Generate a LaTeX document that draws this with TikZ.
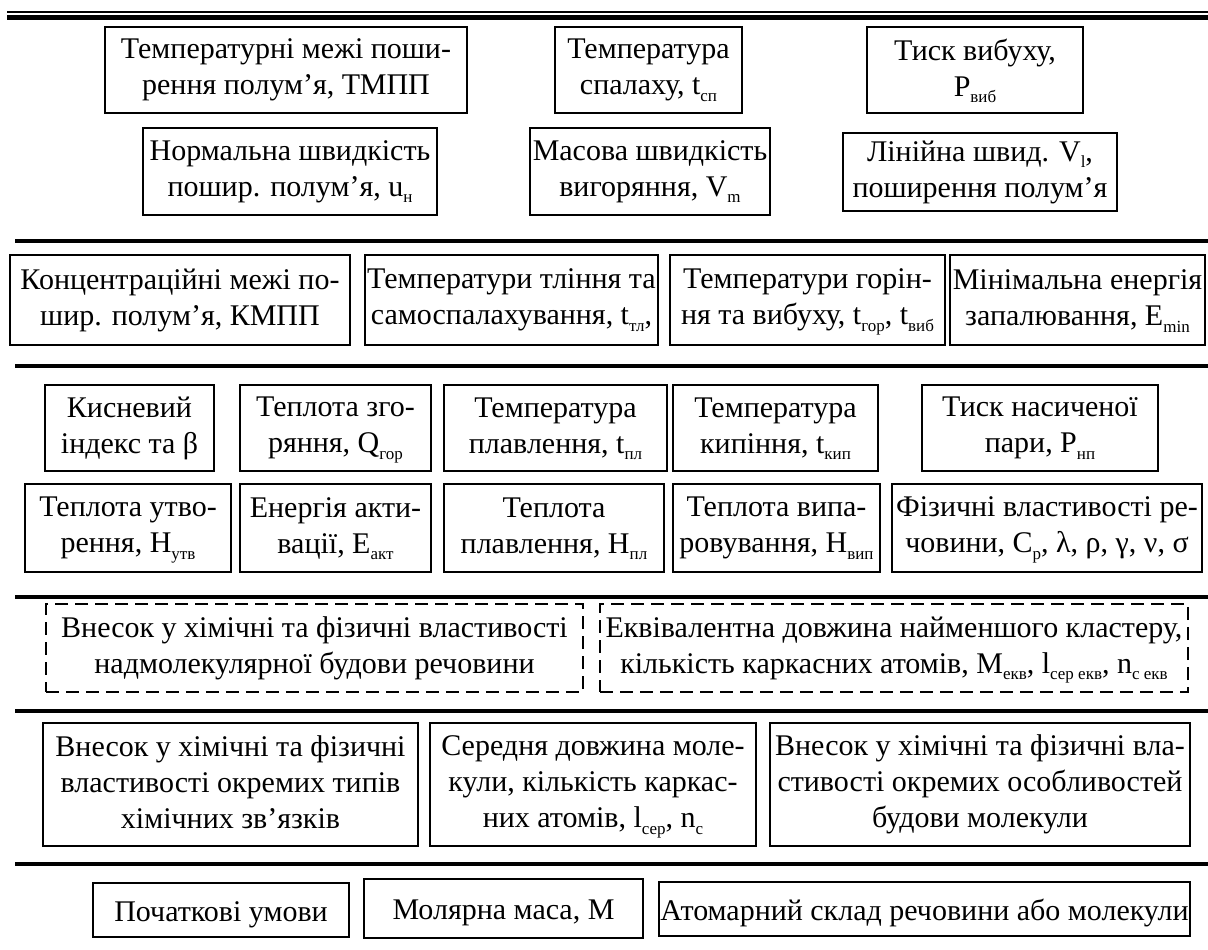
\documentclass[tikz,border=0pt]{standalone}
\usepackage{fontspec}
\setmainfont{Liberation Serif}
\newcommand\subx[1]{\raisebox{-0.22em}[0pt][0pt]{\fontsize{17}{17}\selectfont #1}}
\newcommand\stt{\rule[-5pt]{0pt}{34pt}}
\tikzset{
  boxst/.style={draw, line width=1.5pt, align=center, inner sep=0pt,
    font=\fontsize{30}{36}\selectfont,
    execute at begin node=\stt, execute at end node=\stt},
  dbox/.style={boxst, dash pattern=on 13pt off 7pt},
  sepline/.style={line width=3.2pt},
}
\begin{document}
\begin{tikzpicture}[x=1pt,y=-1pt]
\useasboundingbox (0,0) rectangle (1208,950);
% top double rule
\draw[line width=1.5pt] (7,12) -- (1208,12);
\draw[line width=4.5pt] (7,17.5) -- (1208,17.5);
% row 1
\node[boxst, minimum width=362, minimum height=86] (r1a) at (286,70) {Температурні межі поши-\\рення полум’я, ТМПП};
\node[boxst, minimum width=187, minimum height=86] (r1b) at (648.5,70) {Температура\\спалаху, t\subx{сп}};
\node[boxst, minimum width=216, minimum height=86] (r1c) at (975,70) {Тиск вибуху,\\P\subx{виб}};
% row 2
\node[boxst, minimum width=294, minimum height=87] (r2a) at (290,171.5) {Нормальна швидкість\\пошир. полум’я, u\subx{н}};
\node[boxst, minimum width=240, minimum height=87] (r2b) at (650,171.5) {Масова швидкість\\вигоряння, V\subx{m}};
\node[boxst, minimum width=274, minimum height=78] (r2c) at (980,172) {Лінійна швид. V\subx{l},\\поширення полум’я};
\draw[sepline] (15,241) -- (1208,241);
% row 3
\node[boxst, minimum width=340, minimum height=90] (r3a) at (180,300) {Концентраційні межі по-\\шир. полум’я, КМПП};
\node[boxst, minimum width=293, minimum height=90] (r3b) at (511.5,300) {Температури тління та\\самоспалахування, t\subx{тл},};
\node[boxst, minimum width=275, minimum height=90] (r3c) at (807.5,300) {Температури горін-\\ня та вибуху, t\subx{гор}, t\subx{виб}};
\node[boxst, minimum width=255, minimum height=90] (r3d) at (1077.5,300) {Мінімальна енергія\\запалювання, E\subx{min}};
\draw[sepline] (15,366) -- (1208,366);
% row 4
\node[boxst, minimum width=169, minimum height=86] (r4a) at (129.5,428) {Кисневий\\індекс та β};
\node[boxst, minimum width=191, minimum height=86] (r4b) at (335.5,428) {Теплота зго-\\ряння, Q\subx{гор}};
\node[boxst, minimum width=223, minimum height=86] (r4c) at (555.5,428) {Температура\\плавлення, t\subx{пл}};
\node[boxst, minimum width=205, minimum height=86] (r4d) at (775.5,428) {Температура\\кипіння, t\subx{кип}};
\node[boxst, minimum width=236, minimum height=86] (r4e) at (1040,428) {Тиск насиченої\\пари, P\subx{нп}};
% row 5
\node[boxst, minimum width=206, minimum height=88] (r5a) at (128,528) {Теплота утво-\\рення, H\subx{утв}};
\node[boxst, minimum width=191, minimum height=88] (r5b) at (335.5,528) {Енергія акти-\\вації, E\subx{акт}};
\node[boxst, minimum width=220, minimum height=88] (r5c) at (554,528) {Теплота\\плавлення, H\subx{пл}};
\node[boxst, minimum width=207, minimum height=88] (r5d) at (776.5,528) {Теплота випа-\\ровування, H\subx{вип}};
\node[boxst, minimum width=310, minimum height=88] (r5e) at (1047,528) {Фізичні властивості ре-\\човини, C\subx{p}, λ, ρ, γ, ν, σ};
\draw[sepline] (15,597) -- (1208,597);
% row 6 dashed
\node[dbox, minimum width=537, minimum height=88] (d1) at (314.5,648) {Внесок у хімічні та фізичні властивості\\надмолекулярної будови речовини};
\node[dbox, minimum width=588, minimum height=88] (d2) at (894,648) {Еквівалентна довжина найменшого кластеру,\\кількість каркасних атомів, M\subx{екв}, l\subx{сер екв}, n\subx{с екв}};
\draw[sepline] (15,711) -- (1208,711);
% row 7
\node[boxst, minimum width=375, minimum height=123] (r7a) at (230.5,784.5) {Внесок у хімічні та фізичні\\властивості окремих типів\\хімічних зв’язків};
\node[boxst, minimum width=326, minimum height=123] (r7b) at (593,784.5) {Середня довжина моле-\\кули, кількість каркас-\\них атомів, l\subx{сер}, n\subx{с}};
\node[boxst, minimum width=420, minimum height=123] (r7c) at (980,784.5) {Внесок у хімічні та фізичні вла-\\стивості окремих особливостей\\будови молекули};
\draw[sepline] (15,864) -- (1208,864);
% row 8
\node[boxst, minimum width=256, minimum height=54] (r8a) at (221,910) {Початкові умови};
\node[boxst, minimum width=279, minimum height=59] (r8b) at (503.5,908.5) {Молярна маса, M};
\node[boxst, minimum width=531, minimum height=54] (r8c) at (924.5,909) {Атомарний склад речовини або молекули};
\end{tikzpicture}
\end{document}
